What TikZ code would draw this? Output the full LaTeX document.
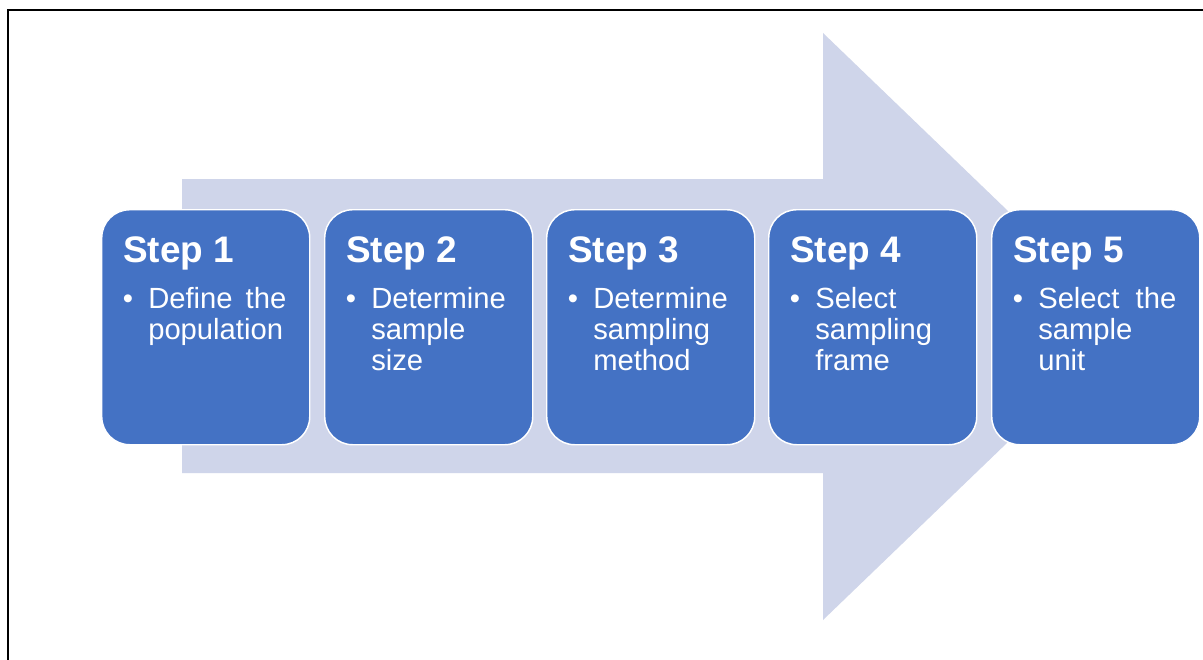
\documentclass[tikz,border=0pt]{standalone}
\usepackage{fontspec}
\setmainfont{Liberation Sans}
\usetikzlibrary{calc}
\definecolor{cardblue}{HTML}{4472C4}
\definecolor{arrowfill}{HTML}{CFD5EA}
\newcommand{\titlefont}{\fontsize{27.7pt}{30pt}\selectfont\bfseries}
\newcommand{\bodyfont}{\fontsize{21.9pt}{23.25pt}\selectfont}
\newcommand{\spread}[1]{\makebox[103.5pt][s]{#1}}
\tikzset{
  card/.style={draw=white, line width=1.1pt, fill=cardblue, rounded corners=21pt,
    minimum width=156pt, minimum height=176.25pt, inner sep=0pt, anchor=north west},
  cardtitle/.style={text=white, font=\titlefont, anchor=base west, inner sep=0pt},
  cardline/.style={text=white, font=\bodyfont, anchor=base west, inner sep=0pt},
  carddot/.style={text=white, font=\bodyfont, anchor=base, inner sep=0pt},
}
\begin{document}
\begin{tikzpicture}[x=0.75pt,y=-0.75pt]
  % page area and frame
  \fill[white] (0,0) rectangle (1203,660);
  \useasboundingbox (0,0) rectangle (1203,660);
  \draw[line width=1.5pt] (8,660) -- (8,10) -- (1203,10);

  % background block arrow
  \fill[arrowfill] (182,179) -- (823,179) -- (823,33) -- (1128,326.5)
    -- (823,620) -- (823,473) -- (182,473) -- cycle;

  % step cards
  \node[card] (c1) at (101,209) {};
  \node[card] (c2) at (324,209) {};
  \node[card] (c3) at (546,209) {};
  \node[card] (c4) at (768,209) {};
  \node[card] (c5) at (991,209) {};

  % Step 1
  \node[cardtitle] (t1) at ($(c1.north west)+(22,53)$) {Step 1};
  \node[carddot]   (d1) at ($(c1.north west)+(27,99)$) {•};
  \node[cardline]  (a1) at ($(c1.north west)+(47,99)$) {\spread{Define the}};
  \node[cardline]  (b1) at ($(c1.north west)+(47,130)$) {population};

  % Step 2
  \node[cardtitle] (t2) at ($(c2.north west)+(22,53)$) {Step 2};
  \node[carddot]   (d2) at ($(c2.north west)+(27,99)$) {•};
  \node[cardline]  (a2) at ($(c2.north west)+(47,99)$) {Determine};
  \node[cardline]  (b2) at ($(c2.north west)+(47,130)$) {sample};
  \node[cardline]  (e2) at ($(c2.north west)+(47,161)$) {size};

  % Step 3
  \node[cardtitle] (t3) at ($(c3.north west)+(22,53)$) {Step 3};
  \node[carddot]   (d3) at ($(c3.north west)+(27,99)$) {•};
  \node[cardline]  (a3) at ($(c3.north west)+(47,99)$) {Determine};
  \node[cardline]  (b3) at ($(c3.north west)+(47,130)$) {sampling};
  \node[cardline]  (e3) at ($(c3.north west)+(47,161)$) {method};

  % Step 4
  \node[cardtitle] (t4) at ($(c4.north west)+(22,53)$) {Step 4};
  \node[carddot]   (d4) at ($(c4.north west)+(27,99)$) {•};
  \node[cardline]  (a4) at ($(c4.north west)+(47,99)$) {Select};
  \node[cardline]  (b4) at ($(c4.north west)+(47,130)$) {sampling};
  \node[cardline]  (e4) at ($(c4.north west)+(47,161)$) {frame};

  % Step 5
  \node[cardtitle] (t5) at ($(c5.north west)+(22,53)$) {Step 5};
  \node[carddot]   (d5) at ($(c5.north west)+(27,99)$) {•};
  \node[cardline]  (a5) at ($(c5.north west)+(47,99)$) {\spread{Select the}};
  \node[cardline]  (b5) at ($(c5.north west)+(47,130)$) {sample};
  \node[cardline]  (e5) at ($(c5.north west)+(47,161)$) {unit};
\end{tikzpicture}
\end{document}
